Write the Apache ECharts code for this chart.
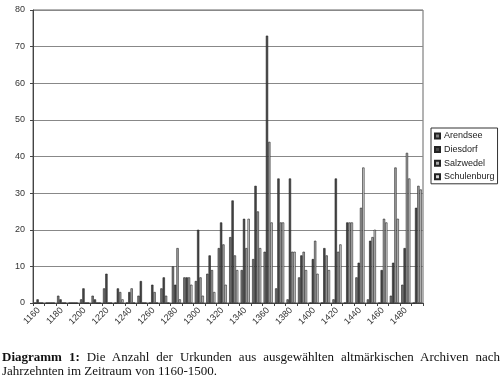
<!DOCTYPE html>
<html>
<head>
<meta charset="utf-8">
<script src="https://cdn.jsdelivr.net/npm/echarts@6/dist/echarts.min.js"></script>
<style>
  html, body { margin: 0; padding: 0; background: #fff; }
  #wrap { position: relative; width: 504px; height: 385px; overflow: hidden; }
  #chart { position: absolute; left: 0; top: 0; width: 504px; height: 385px; }
  #cap { position: absolute; left: 2px; top: 350px; width: 498px; font-family: "Liberation Serif", "Times New Roman", serif; font-size: 13px; line-height: 14px; color: #111; }
  #cap .l1 { text-align: justify; text-align-last: justify; white-space: nowrap; }
</style>
</head>
<body>
<div id="wrap">
  <div id="chart"></div>
  <div id="cap">
    <div class="l1"><b>Diagramm 1:</b> Die Anzahl der Urkunden aus ausgewählten altmärkischen Archiven nach</div>
    <div>Jahrzehnten im Zeitraum von 1160-1500.</div>
  </div>
</div>
<script>
const decades = ['1160','1170','1180','1190','1200','1210','1220','1230','1240','1250','1260','1270','1280','1290','1300','1310','1320','1330','1340','1350','1360','1370','1380','1390','1400','1410','1420','1430','1440','1450','1460','1470','1480','1490'];
const arendsee    = [0,0,2,0,1,2,4,0,0,2,0,4,10,7,6,8,15,18,9,12,14,4,1,7,0,0,1,0,7,1,0,2,5,0];
const diesdorf    = [1,0,1,0,4,1,8,4,3,6,5,7,5,7,20,13,22,28,23,32,73,34,34,13,12,15,34,22,11,17,9,11,15,26];
const salzwedel   = [0,0,0,0,0,0,0,3,4,0,3,2,15,7,7,9,16,13,15,25,44,22,14,14,17,13,14,22,26,18,23,37,41,32];
const schulenburg = [0,0,0,0,0,0,0,1,0,0,0,0,1,5,2,3,5,9,23,15,22,22,14,9,8,9,16,22,37,20,22,23,34,31];
const yTicks = { min: 0, max: 80, interval: 10 };

const font = '"Liberation Sans", Arial, sans-serif';
const chart = echarts.init(document.getElementById('chart'), null, { renderer: 'canvas' });
function bar(name, data, color) {
  return {
    name: name, type: 'bar', data: data,
    barGap: '0%', barCategoryGap: '20%',
    itemStyle: { color: color, borderColor: '#222', borderWidth: 0.6 },
    animation: false
  };
}
chart.setOption({
  animation: false,
  grid: { left: 33, right: 81, top: 10, bottom: 82, show: true, borderColor: '#666', borderWidth: 1, backgroundColor: 'transparent' },
  legend: {
    orient: 'vertical', left: 431, top: 128,
    itemWidth: 5, itemHeight: 5, itemGap: 3.6,
    padding: [3, 3, 2, 3],
    borderColor: '#333', borderWidth: 1, backgroundColor: '#fff',
    icon: 'rect',
    textStyle: { fontFamily: font, fontSize: 9, color: '#222', lineHeight: 10, padding: [0, 0, 0, -1] },
    data: ['Arendsee', 'Diesdorf', 'Salzwedel', 'Schulenburg']
  },
  xAxis: {
    type: 'category', data: decades,
    axisLine: { lineStyle: { color: '#444', width: 1 } },
    axisTick: { show: true, interval: 0, length: 3, lineStyle: { color: '#444' } },
    axisLabel: { interval: 1, rotate: 45, fontFamily: font, fontSize: 9, color: '#333', margin: 6 },
    splitLine: { show: false }
  },
  yAxis: {
    type: 'value', min: yTicks.min, max: yTicks.max, interval: yTicks.interval,
    axisLine: { show: true, lineStyle: { color: '#444', width: 1 } },
    axisTick: { show: true, length: 3, lineStyle: { color: '#444' } },
    axisLabel: { fontFamily: font, fontSize: 9, color: '#333', margin: 8 },
    splitLine: { show: true, lineStyle: { color: '#888', width: 1 } }
  },
  series: [
    bar('Arendsee', arendsee, '#7c7c7c'),
    bar('Diesdorf', diesdorf, '#484848'),
    bar('Salzwedel', salzwedel, '#a9a9a9'),
    bar('Schulenburg', schulenburg, '#d2d2d2')
  ]
});
</script>
</body>
</html>
